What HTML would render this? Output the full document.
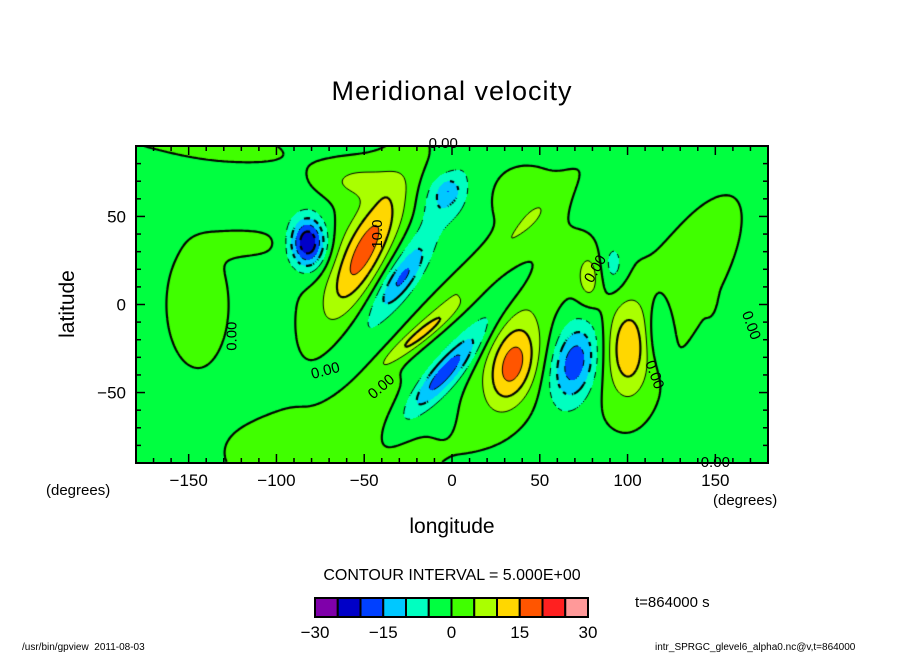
<!DOCTYPE html>
<html><head><meta charset="utf-8">
<style>
body{margin:0;background:#fff;}
#root{position:relative;width:904px;height:654px;overflow:hidden;font-family:"Liberation Sans",sans-serif;color:#000;}
.t{position:absolute;white-space:nowrap;}
canvas{position:absolute;left:136px;top:146px;}
svg{position:absolute;left:0;top:0;}
</style></head>
<body>
<div id="root">
<div class="t" style="left:0;width:904px;text-align:center;top:76px;font-size:27px;letter-spacing:1px;">Meridional velocity</div>
<canvas id="cv" width="632" height="317"></canvas>
<svg id="ax" width="904" height="654"></svg>
<div class="t" style="left:68px;top:304px;font-size:21px;transform:translate(-50%,-50%) rotate(-90deg);">latitude</div>
<div class="t" style="left:0;width:904px;text-align:center;top:515px;font-size:21px;">longitude</div>
<div class="t" style="left:46px;top:482px;font-size:15px;">(degrees)</div>
<div class="t" style="left:713px;top:492px;font-size:15px;">(degrees)</div>
<div class="t" style="left:0;width:904px;text-align:center;top:567px;font-size:16px;">CONTOUR INTERVAL = 5.000E+00</div>
<div class="t" style="left:635px;top:594px;font-size:15px;">t=864000 s</div>
<div class="t" style="left:22px;top:642px;font-size:10px;">/usr/bin/gpview &nbsp;2011-08-03</div>
<div class="t" style="left:655px;top:642px;font-size:10px;">intr_SPRGC_glevel6_alpha0.nc@v,t=864000</div>
</div>
<script>
// ---- data ----
const levels=[-30,-25,-20,-15,-10,-5,0,5,10,15,20,25,30];
const colors=["#7f00aa","#0000c8","#0040ff","#00c8ff","#00ffc0","#00ff40","#40ff00","#aaff00","#ffd700","#ff5500","#ff2020","#ff9999"];
const baseValue=-1.5;
const blobLon=[-82,-50,-50,-55,-25,-2,-5,-28,-16,5,-5,15,35,35,70,100,100,118,78,92,130,147,-145,-115,-150,-70,-55,40,60];
const blobLat=[35,30,35,70,25,65,62,15,-16,10,-40,-15,-35,-10,-33,-25,-25,-15,15,22,10,5,0,35,95,-85,-60,60,25];
const blobAmp=[-24,14,5,6,-6,-5,-6,-10,10,6,-13,-5,16,4,-17,11,3,-8,8,-6,3.5,2.5,3,2.5,2.5,3.5,3,3,2.5];
const blobSx=[7,9,18,14,8,4,10,6,5,7,7,7,10,14,9,8,14,5,5,5,18,2,15,15,40,45,15,15,12];
const blobSy=[10,25,35,7,40,4,10,12,12,35,15,35,17,40,16,18,30,14,11,10,40,6,30,6,14,20,15,15,20];
const blobK=[0,0.45,0.45,0,0.6,0,0,0.6,1.2,1.0,0.8,0.8,0.2,0.3,0.15,0,0,0,0,0,0.5,0,0,0,-2.5,0,1,0,0];
const xTicks=[-150,-100,-50,0,50,100,150];
const yTicks=[50,0,-50];
const legendLabels=["−30","−15","0","15","30"];
const legendLabelVals=[-30,-15,0,15,30];
// ---- scales ----
const X0=136,X1=768,Y0=146,Y1=463;
const xs=lon=>X0+(lon+180)/360*(X1-X0);
const ys=lat=>Y0+(90-lat)/180*(Y1-Y0);
function field(lon,lat){
  let v=baseValue;
  for(let i=0;i<blobLon.length;i++){
    const dy=lat-blobLat[i];const dx=lon-blobLon[i]-blobK[i]*dy;
    const a=dx/blobSx[i],b=dy/blobSy[i];const r=a*a+b*b;
    if(r<40)v+=blobAmp[i]*Math.exp(-r/2);
  }
  return v;
}
const W=632,H=317;
const cv=document.getElementById('cv');const ctx=cv.getContext('2d');
const img=ctx.createImageData(W,H);
const rgb=colors.map(c=>[parseInt(c.substr(1,2),16),parseInt(c.substr(3,2),16),parseInt(c.substr(5,2),16)]);
for(let py=0;py<H;py++){const lat=90-(py+0.5)/H*180;
 for(let px=0;px<W;px++){const lon=-180+(px+0.5)/W*360;const v=field(lon,lat);
  let k=Math.floor((v+30)/5);k=Math.max(0,Math.min(11,k));const c=rgb[k];const o=(py*W+px)*4;
  img.data[o]=c[0];img.data[o+1]=c[1];img.data[o+2]=c[2];img.data[o+3]=255;}}
ctx.putImageData(img,0,0);
// contours via marching squares
const S=2,nx=Math.floor(W/S)+1,ny=Math.floor(H/S)+1;const g=[];
for(let j=0;j<ny;j++){g[j]=[];for(let i=0;i<nx;i++)g[j][i]=field(-180+i*S/W*360,90-j*S/H*180);}
ctx.strokeStyle="#000";
for(const L of levels){
  if(L<=-30||L>=30)continue;
  ctx.lineWidth=(L%10===0)?2.2:1;
  ctx.beginPath();
  for(let j=0;j<ny-1;j++)for(let i=0;i<nx-1;i++){
    const a=g[j][i],b=g[j][i+1],c=g[j+1][i+1],d=g[j+1][i];
    const pts=[];
    const e=(p,q,x1,y1,x2,y2)=>{if((p<L)!==(q<L)){const t=(L-p)/(q-p);pts.push([x1+(x2-x1)*t,y1+(y2-y1)*t]);}};
    const x=i*S,y=j*S;
    e(a,b,x,y,x+S,y);e(b,c,x+S,y,x+S,y+S);e(c,d,x+S,y+S,x,y+S);e(d,a,x,y+S,x,y);
    if(L<0&&Math.floor((x+y)/6)%2===1)continue;
    for(let k=0;k+1<pts.length;k+=2){ctx.moveTo(pts[k][0],pts[k][1]);ctx.lineTo(pts[k+1][0],pts[k+1][1]);}
  }
  ctx.stroke();
}
// ---- axes ----
const NS="http://www.w3.org/2000/svg";const svg=document.getElementById('ax');
function el(t,a){const e=document.createElementNS(NS,t);for(const k in a)e.setAttribute(k,a[k]);svg.appendChild(e);return e;}
const frame=el('rect',{x:X0,y:Y0,width:X1-X0,height:Y1-Y0,fill:'none',stroke:'#000','stroke-width':2});


for(let lon=-170;lon<=170;lon+=10){const len=(lon%50===0)?9:5;const x=xs(lon);
 el('line',{x1:x,y1:Y1,x2:x,y2:Y1-len,stroke:'#000','stroke-width':1.5});
 el('line',{x1:x,y1:Y0,x2:x,y2:Y0+len,stroke:'#000','stroke-width':1.5});}
for(let lat=-80;lat<=80;lat+=10){const len=(lat%50===0)?9:5;const y=ys(lat);
 el('line',{x1:X0,y1:y,x2:X0+len,y2:y,stroke:'#000','stroke-width':1.5});
 el('line',{x1:X1,y1:y,x2:X1-len,y2:y,stroke:'#000','stroke-width':1.5});}
for(const v of xTicks){const t=el('text',{x:xs(v),y:486,'text-anchor':'middle','font-size':17,'font-family':'Liberation Sans, sans-serif'});t.textContent=String(v).replace('-','−');
 
 }
for(const v of yTicks){const t=el('text',{x:126,y:ys(v)+6,'text-anchor':'end','font-size':17,'font-family':'Liberation Sans, sans-serif'});t.textContent=String(v).replace('-','−');
 
 }
// contour labels
const labTxt=["0.00","0.00","0.00","0.00","0.00","0.00","0.00","10.0","0.00"];
const labLon=[-5,-125,-72,-40,82,115,170,-42,150];
const labLat=[91,-18,-38,-47,20,-40,-12,40,-90];
const labRot=[0,-90,-15,-40,-60,70,70,-90,0];
for(let i=0;i<labTxt.length;i++){const t=el('text',{x:xs(labLon[i]),y:ys(labLat[i]),'text-anchor':'middle','dominant-baseline':'middle','font-size':15,'font-family':'Liberation Sans, sans-serif',transform:`rotate(${labRot[i]} ${xs(labLon[i])} ${ys(labLat[i])})`});t.textContent=labTxt[i];
 
 }
// legend
const LX0=315,LX1=588,LY=598,LH=19;const bw=(LX1-LX0)/colors.length;
for(let i=0;i<colors.length;i++){const r=el('rect',{x:LX0+i*bw,y:LY,width:bw,height:LH,fill:colors[i],stroke:'#000','stroke-width':2});
 
 }
for(let i=0;i<legendLabels.length;i++){const x=LX0+(legendLabelVals[i]+30)/60*(LX1-LX0);
 const t=el('text',{x:x,y:638,'text-anchor':'middle','font-size':17,'font-family':'Liberation Sans, sans-serif'});t.textContent=legendLabels[i];
 
 }
</script>
</body></html>
